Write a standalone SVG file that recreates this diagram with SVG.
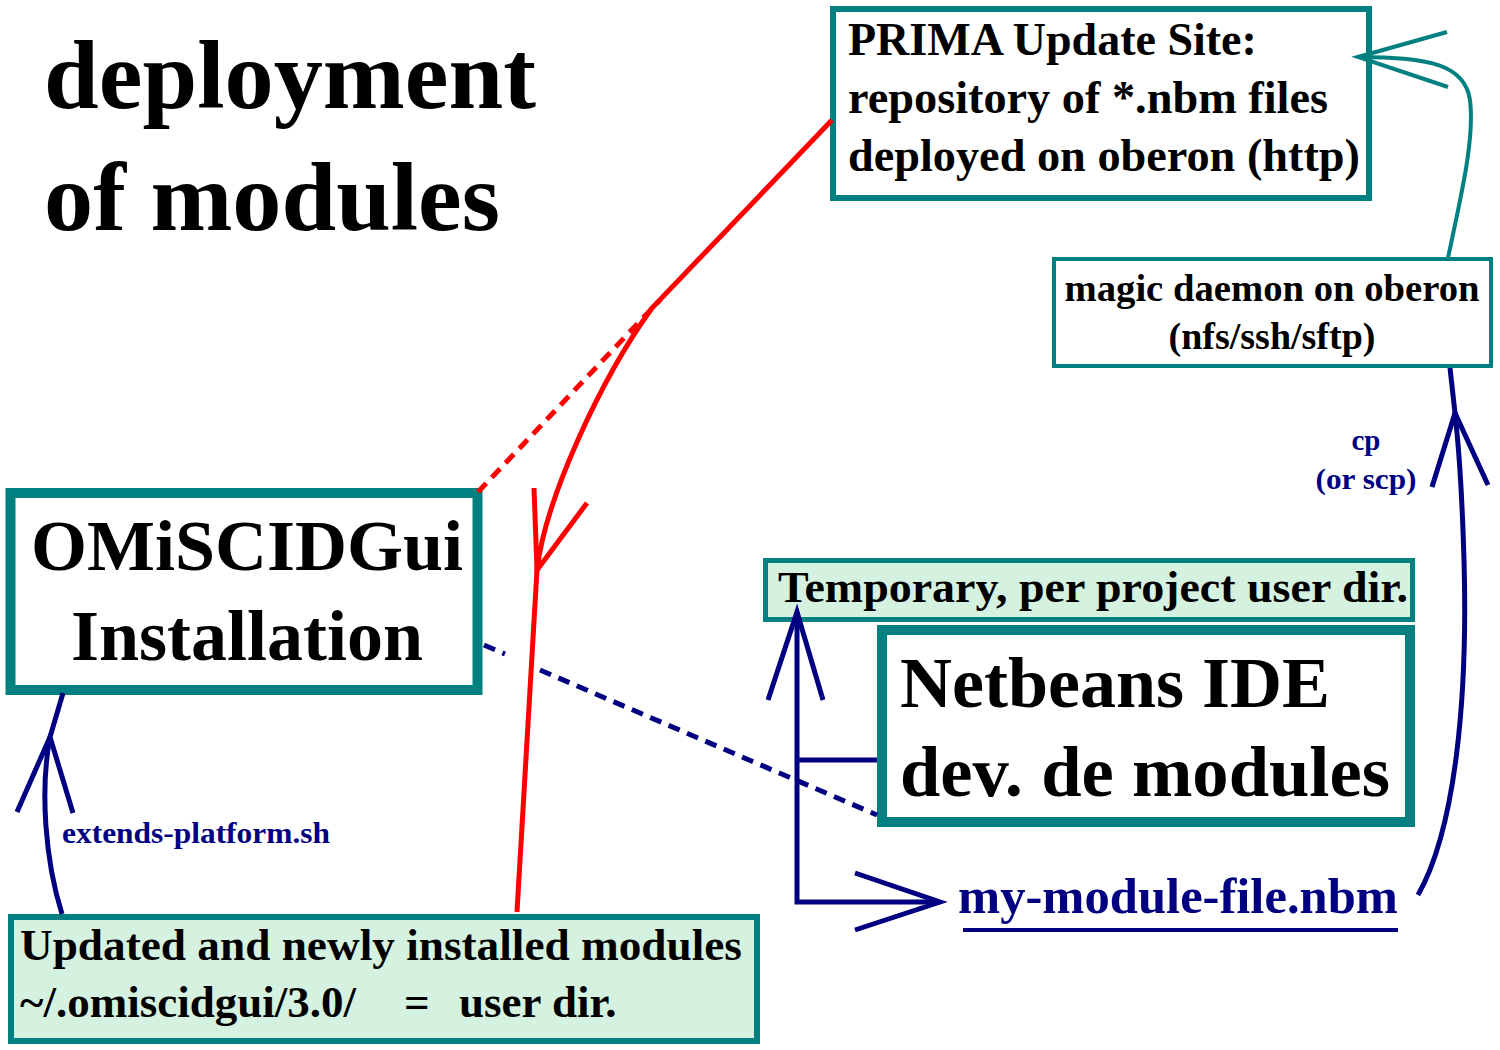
<svg xmlns="http://www.w3.org/2000/svg" width="1500" height="1050" viewBox="0 0 1500 1050">
<style>
text{font-family:"Liberation Serif","Times New Roman",serif;font-weight:bold;fill:#000}
.box{fill:#fff;stroke:#008080}
.green{fill:#d5f2e0;stroke:#008080}
.navy{fill:#000080}
.cn{fill:none;stroke:#000080;stroke-width:5}
.red{fill:none;stroke:#ff0000;stroke-width:5}
.teal{fill:none;stroke:#008080;stroke-width:4}
</style>
<rect width="1500" height="1050" fill="#fff"/>
<g id="title">
<text x="44" y="108" font-size="98" textLength="492" lengthAdjust="spacingAndGlyphs">deployment</text>
<text x="44" y="230" font-size="98" textLength="456" lengthAdjust="spacingAndGlyphs">of modules</text>
</g>
<g id="prima">
<rect class="box" x="833" y="9" width="536" height="189" stroke-width="6"/>
<text x="848" y="55" font-size="46">PRIMA Update Site:</text>
<text x="848" y="113" font-size="46" textLength="480" lengthAdjust="spacingAndGlyphs">repository of *.nbm files</text>
<text x="848" y="171" font-size="46" textLength="512" lengthAdjust="spacingAndGlyphs">deployed on oberon (http)</text>
</g>
<g id="daemon">
<rect class="box" x="1054" y="259" width="437" height="107" stroke-width="4"/>
<text x="1272" y="301" font-size="38" text-anchor="middle" textLength="415" lengthAdjust="spacingAndGlyphs">magic daemon on oberon</text>
<text x="1272" y="349" font-size="38" text-anchor="middle">(nfs/ssh/sftp)</text>
</g>
<g id="omiscid">
<rect class="box" x="10.5" y="493" width="467" height="197" stroke-width="10"/>
<text x="247" y="570" font-size="72" text-anchor="middle">OMiSCIDGui</text>
<text x="247" y="660" font-size="72" text-anchor="middle">Installation</text>
</g>
<g id="temporary">
<rect class="green" x="765.5" y="560.5" width="647" height="59" stroke-width="5"/>
<text x="778" y="602" font-size="45" textLength="630" lengthAdjust="spacingAndGlyphs">Temporary, per project user dir.</text>
</g>
<g id="netbeans">
<rect class="box" x="882" y="630" width="528" height="192" stroke-width="10"/>
<text x="900" y="707" font-size="72">Netbeans IDE</text>
<text x="900" y="796" font-size="72" textLength="490" lengthAdjust="spacingAndGlyphs">dev. de modules</text>
</g>
<g id="userdir">
<rect class="green" x="11" y="917" width="746" height="124" stroke-width="6"/>
<text x="20" y="960" font-size="45" textLength="722" lengthAdjust="spacingAndGlyphs">Updated and newly installed modules</text>
<text x="20" y="1017" font-size="45">~/.omiscidgui/3.0/</text>
<text x="404" y="1017" font-size="45">=</text>
<text x="459" y="1017" font-size="45">user dir.</text>
</g>
<g id="nbmfile">
<text x="958" y="913" font-size="50" class="navy" textLength="440" lengthAdjust="spacingAndGlyphs">my-module-file.nbm</text>
<rect x="963" y="928" width="435" height="4" fill="#000080"/>
</g>
<g id="connectors">
<path class="red" d="M832,120 L652,308 C600,380 545,500 537,570 L517,912"/>
<path class="red" d="M534,488 L537,570 L587,503"/>
<path class="red" d="M478,492 L660,300" stroke-dasharray="12,8"/>
<path class="cn" d="M484,645 L505,654" stroke-dasharray="12,8"/>
<path class="cn" d="M540,670 L877,815" stroke-dasharray="12,8"/>
<path class="cn" d="M877,760 L797,760 M797,612 L797,902 L940,902"/>
<path class="cn" d="M768,700 L797,612 L823,700"/>
<path class="cn" d="M855,873 L940,902 L855,930"/>
<path class="cn" d="M1418,895 C1455,830 1468,700 1464,560 C1462,490 1458,440 1455,413 L1450,368"/>
<path class="cn" d="M1432,487 L1455,413 L1488,485"/>
<path class="teal" d="M1448,258 C1460,200 1475,140 1470,100 C1465,65 1430,57 1358,57"/>
<path class="teal" d="M1447,32 L1358,57 L1448,87"/>
<path class="cn" d="M62,914 C45,860 40,790 50,737 L63,693"/>
<path class="cn" d="M17,812 L50,737 L73,813"/>
<text x="62" y="843" font-size="30" class="navy" textLength="268" lengthAdjust="spacingAndGlyphs">extends-platform.sh</text>
<text x="1366" y="450" font-size="29" class="navy" text-anchor="middle">cp</text>
<text x="1366" y="489" font-size="29" class="navy" text-anchor="middle" textLength="101" lengthAdjust="spacingAndGlyphs">(or scp)</text>
</g>
</svg>
